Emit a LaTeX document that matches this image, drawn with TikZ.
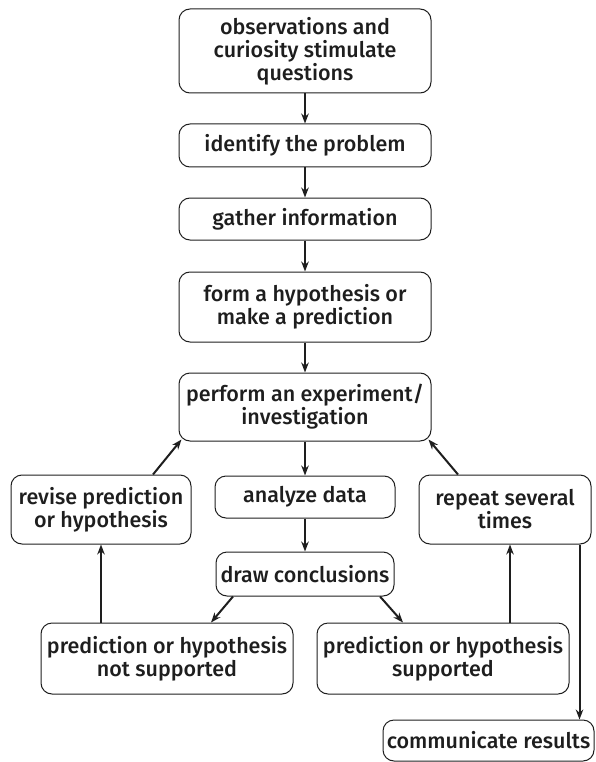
\documentclass[tikz,border=0pt]{standalone}
\usepackage{fontspec}
\setmainfont{Fira Sans}[UprightFont=* Medium]
\usetikzlibrary{arrows.meta}
\definecolor{ink}{HTML}{1E1E1E}
\tikzset{
  box/.style={draw=ink, line width=1pt, rounded corners=11pt, inner sep=0pt,
    align=center, text=ink, font=\fontsize{21.5}{23}\selectfont, anchor=center},
  conn/.style={draw=ink, line width=2pt, -{Stealth[length=10pt,width=7.5pt]}}
}
\newcommand{\bx}[7]{% name, x1, y1, x2, y2, text
  \node[box, minimum width={#4-#2}, minimum height={#5-#3}] (#1) at ({(#2+#4)/2},{(#3+#5)/2}) {#6};}
\begin{document}
\begin{tikzpicture}[x=1pt,y=-1pt]
\useasboundingbox (0,0) rectangle (595,762);
\bx{obs}{179}{9}{431}{93}{observations and\\curiosity stimulate\\questions}{}
\bx{ident}{179}{124}{431}{167}{identify the problem}{}
\bx{gather}{179}{198}{431}{240}{gather information}{}
\bx{form}{179}{272}{431}{342}{form a hypothesis or\\make a prediction}{}
\bx{perform}{179}{373}{431}{441}{perform an experiment/\\investigation}{}
\bx{revise}{11}{475}{191}{544}{revise prediction\\or hypothesis}{}
\bx{analyze}{215}{476}{395}{518}{analyze data}{}
\bx{repeat}{419}{475}{591}{544}{repeat several\\times}{}
\bx{draw}{216}{552}{394}{596}{draw conclusions}{}
\bx{notsupp}{41}{623}{293}{694}{prediction or hypothesis\\not supported}{}
\bx{supp}{317}{623}{569}{694}{prediction or hypothesis\\supported}{}
\bx{comm}{383}{720}{594}{761}{communicate results}{}

\draw[conn] (obs) -- (ident);
\draw[conn] (ident) -- (gather);
\draw[conn] (gather) -- (form);
\draw[conn] (form) -- (perform);
\draw[conn] (perform.south -| analyze.north) -- (analyze.north);
\draw[conn] (analyze) -- (draw);
\draw[conn] ([xshift=52pt]revise.north) -- ([xshift=3pt,yshift=2pt]perform.south west);
\draw[conn] ([xshift=-47pt]repeat.north) -- ([xshift=-3pt,yshift=2pt]perform.south east);
\draw[conn] ([xshift=-72pt]draw.south) -- ([xshift=44pt]notsupp.north);
\draw[conn] ([xshift=75pt]draw.south) -- ([xshift=-40pt]supp.north);
\draw[conn] (notsupp.north -| revise.south) -- (revise.south);
\draw[conn] ([xshift=5pt]supp.north -| repeat.south) -- ([xshift=5pt]repeat.south);
\draw[conn] ([xshift=74.5pt]repeat.south) -- ([xshift=74.5pt]repeat.south |- comm.north);
\end{tikzpicture}
\end{document}
